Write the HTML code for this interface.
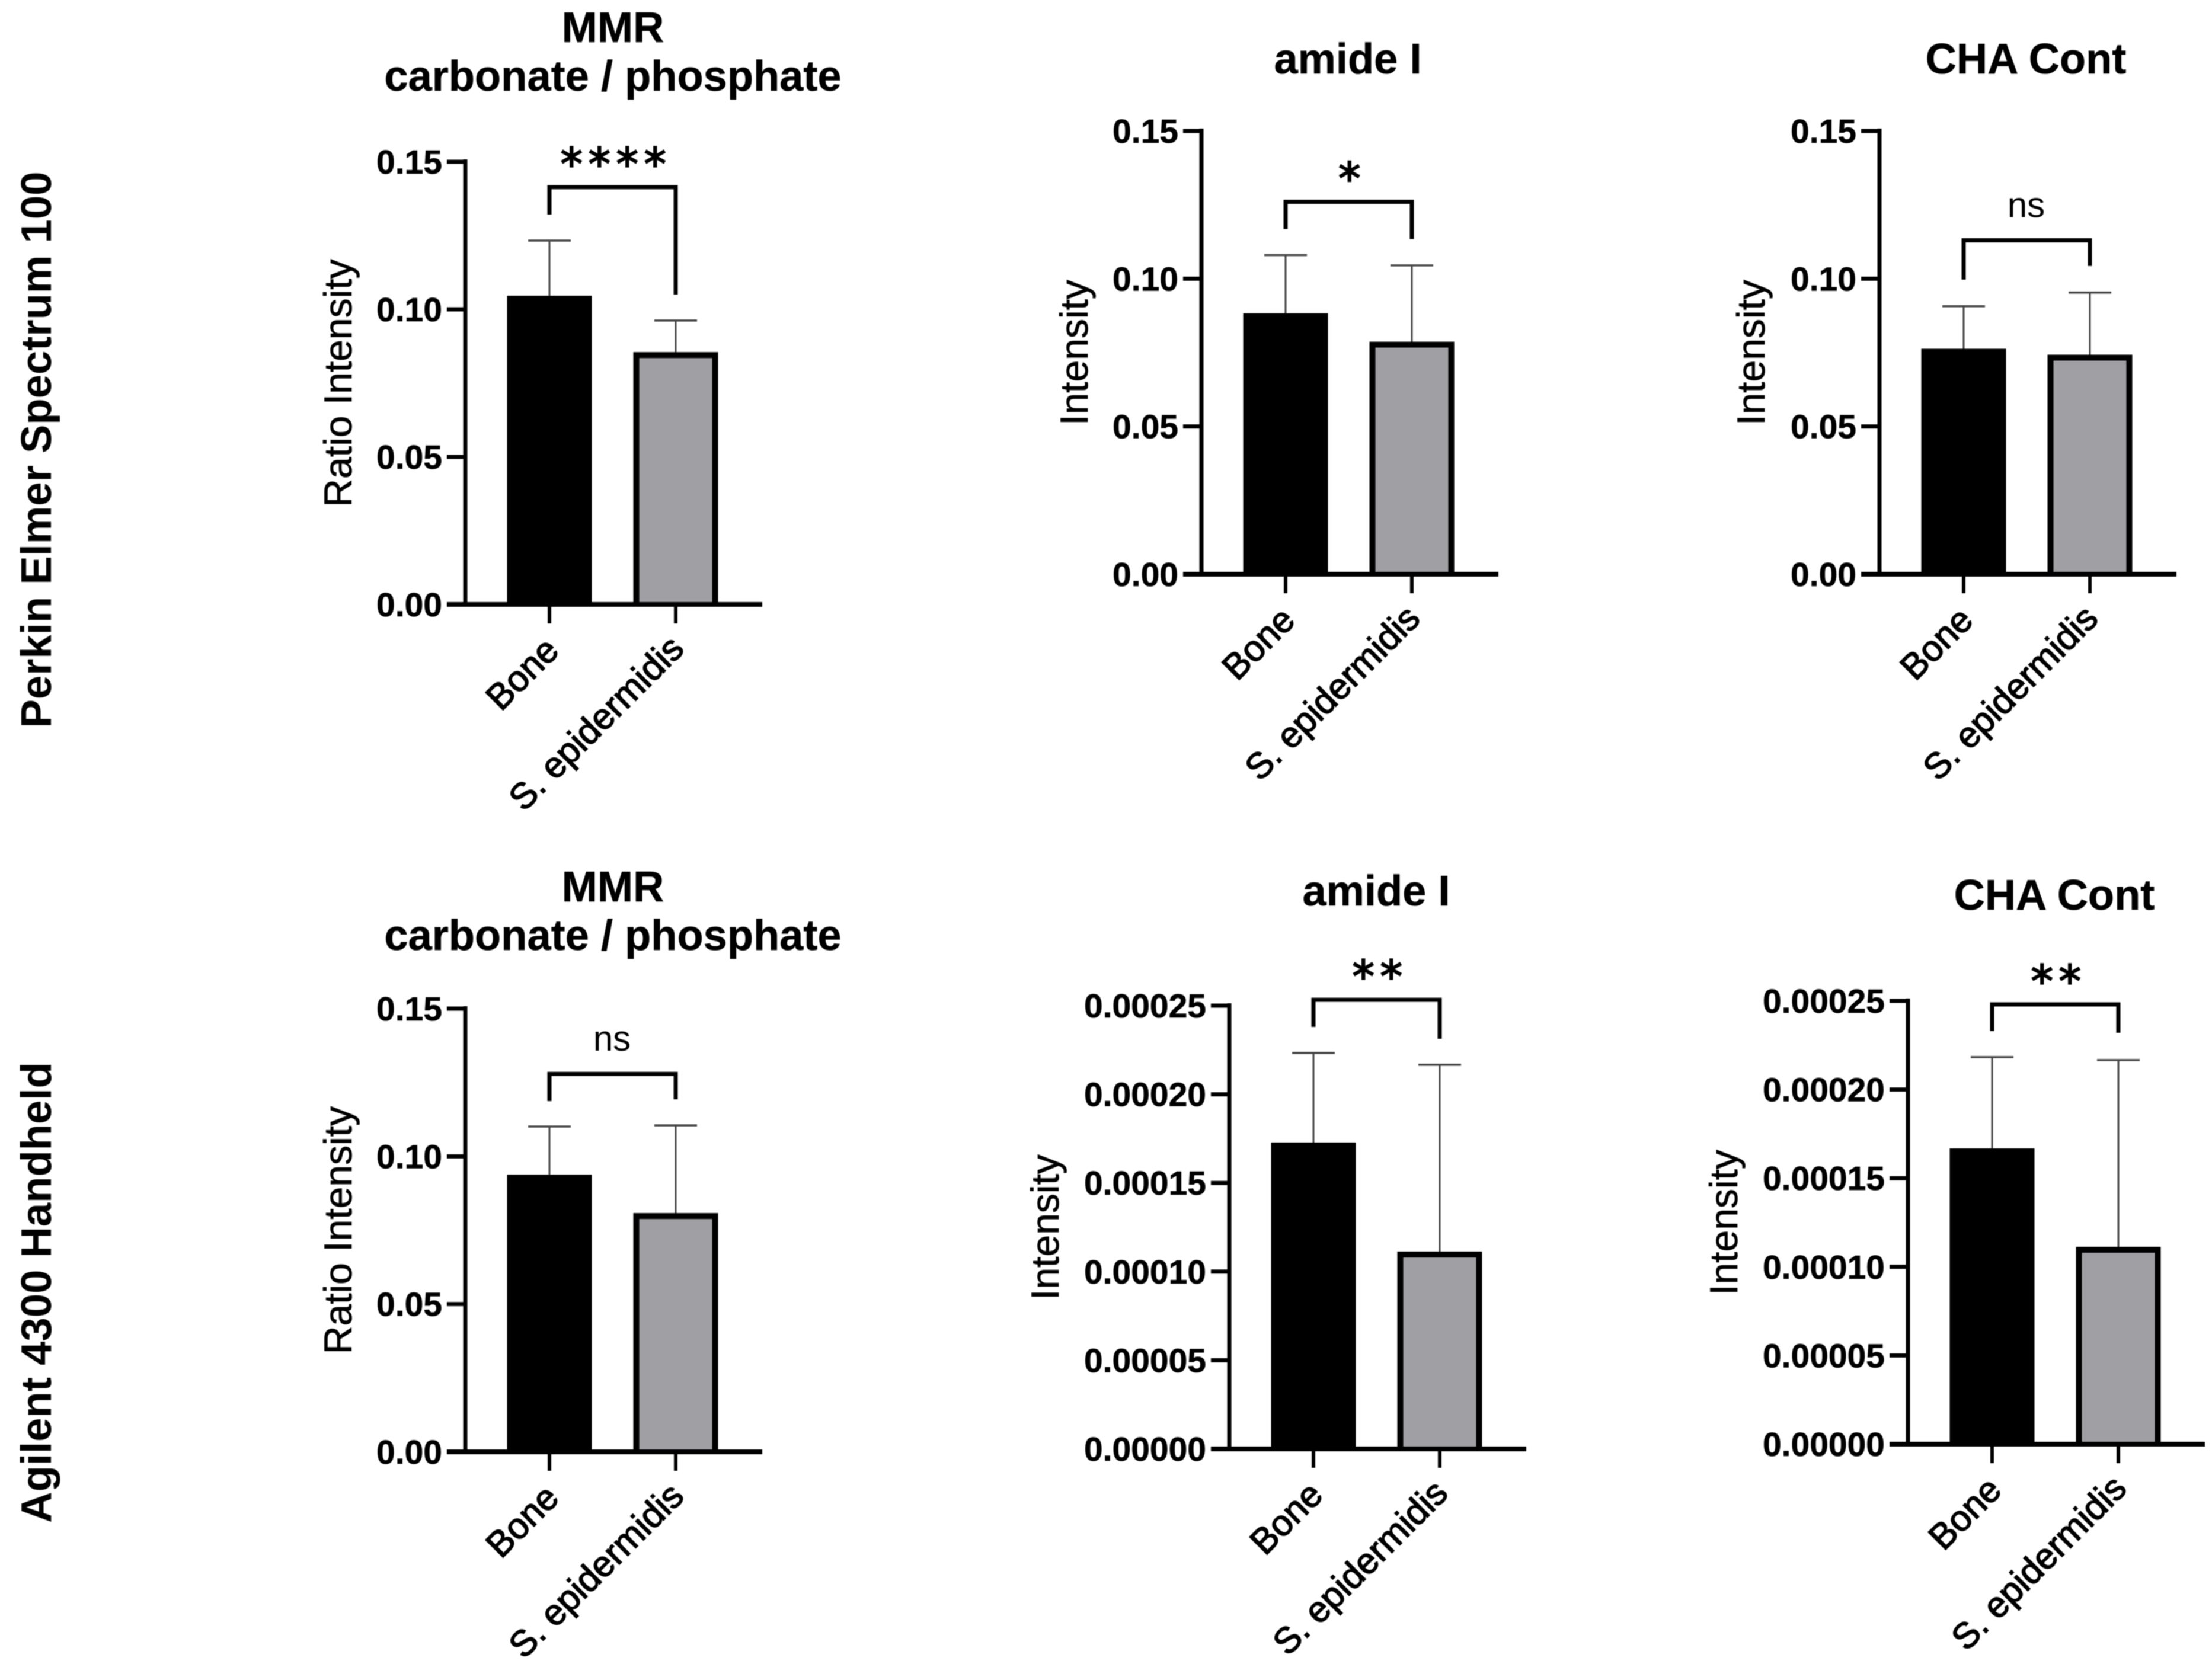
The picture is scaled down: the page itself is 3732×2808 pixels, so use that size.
<!DOCTYPE html>
<html lang="en">
<head>
<meta charset="utf-8">
<title>Bone vs S. epidermidis FTIR parameters</title>
<style>
html,body{margin:0;padding:0;background:#fff;}
body{width:3732px;height:2808px;overflow:hidden;}
svg{display:block;filter:blur(0.8px);}
text{font-family:"Liberation Sans",Arial,sans-serif;fill:#000;}
.title{font-weight:700;font-size:72.3px;text-anchor:middle;stroke:#000;stroke-width:0.5px;}
.row{font-weight:700;font-size:72.5px;text-anchor:middle;}
.tick{font-weight:700;font-size:57px;text-anchor:end;stroke:#000;stroke-width:0.6px;}
.ytitle{font-size:66px;text-anchor:middle;stroke:#000;stroke-width:0.7px;}
.cat{font-size:61px;text-anchor:end;stroke:#000;stroke-width:1.6px;}
.ns{font-size:60px;text-anchor:middle;}
.stars{font-family:"DejaVu Sans",sans-serif;font-size:75px;letter-spacing:9.5px;text-anchor:middle;stroke:#000;stroke-width:2.2px;}
</style>
</head>
<body>
<svg id="figure" xmlns="http://www.w3.org/2000/svg" width="3732" height="2808" viewBox="0 0 3732 2808">
  <rect width="3732" height="2808" fill="#fff"/>
  <text class="row" transform="translate(86 759) rotate(-90)">Perkin Elmer Spectrum 100</text>
  <text class="row" transform="translate(86 2181) rotate(-90)">Agilent 4300 Handheld</text>
</svg>
<script>
const categories = ['Bone', 'S. epidermidis'];
const titleLines = [
  ['MMR', 'carbonate / phosphate'],
  ['amide I'],
  ['CHA Cont'],
  ['MMR', 'carbonate / phosphate'],
  ['amide I'],
  ['CHA Cont']
];
const yAxisTitles = ['Ratio Intensity', 'Intensity', 'Intensity', 'Ratio Intensity', 'Intensity', 'Intensity'];
const tickLabelsShort = ['0.00', '0.05', '0.10', '0.15'];
const tickLabelsLong = ['0.00000', '0.00005', '0.00010', '0.00015', '0.00020', '0.00025'];
const panelTicks = [tickLabelsShort, tickLabelsShort, tickLabelsShort, tickLabelsShort, tickLabelsLong, tickLabelsLong];
const meanValues = [
  [0.1046, 0.0855],
  [0.0883, 0.0787],
  [0.0763, 0.0743],
  [0.0938, 0.0808],
  [0.0001728, 0.0001113],
  [0.0001668, 0.0001113]
];
const errorValues = [
  [0.0187, 0.0107],
  [0.0197, 0.0258],
  [0.0144, 0.0210],
  [0.0163, 0.0297],
  [0.0000505, 0.0001053],
  [0.0000515, 0.0001053]
];
const bracketTop = [0.1414, 0.1260, 0.1130, 0.1279, 0.0002533, 0.0002480];
const bracketLeftEnd = [0.1321, 0.1168, 0.0997, 0.1187, 0.0002380, 0.0002330];
const bracketRightEnd = [0.1050, 0.1134, 0.1043, 0.1193, 0.0002313, 0.0002320];
const significance = ['****', '*', 'ns', 'ns', '**', '**'];

/* Panel placement on the page (layout only) */
const frames = [
  {axisX: 785,  axisTop: 273,  axisBase: 1020, titleX: 1034, titleBase: [71, 153],     yTitleDx: -192},
  {axisX: 2027, axisTop: 221,  axisBase: 969,  titleX: 2274, titleBase: [124],         yTitleDx: -192},
  {axisX: 3171, axisTop: 221,  axisBase: 969,  titleX: 3418, titleBase: [124],         yTitleDx: -194},
  {axisX: 785,  axisTop: 1702, axisBase: 2450, titleX: 1034, titleBase: [1521, 1603],  yTitleDx: -192},
  {axisX: 2074, axisTop: 1697, axisBase: 2445, titleX: 2322, titleBase: [1528],        yTitleDx: -288},
  {axisX: 3219, axisTop: 1689, axisBase: 2437, titleX: 3466, titleBase: [1535],        yTitleDx: -288}
];
const BAR_OFFSETS = [142, 355];
const BAR_WIDTH = 143;
const SVGNS = 'http://www.w3.org/2000/svg';
const root = document.getElementById('figure');

function make(parent, tag, attrs, text) {
  const node = document.createElementNS(SVGNS, tag);
  for (const key in attrs) node.setAttribute(key, attrs[key]);
  if (text !== undefined) node.textContent = text;
  parent.appendChild(node);
  return node;
}

function drawPanel(i) {
  const f = frames[i];
  const ticks = panelTicks[i];
  const yMax = parseFloat(ticks[ticks.length - 1]);
  const y = v => f.axisBase - (v / yMax) * (f.axisBase - f.axisTop);
  const x = c => f.axisX + BAR_OFFSETS[c];
  let el;

  const g = make(root, 'g', {});
  
  

  titleLines[i].forEach((line, k) => {
    el = make(g, 'text', {class: 'title', x: f.titleX, y: f.titleBase[k]}, line);
    
    
  });

  el = make(g, 'text', {class: 'ytitle', transform: 'translate(' + (f.axisX + f.yTitleDx) + ' ' + ((f.axisTop + f.axisBase) / 2) + ') rotate(-90)'}, yAxisTitles[i]);
  
  

  categories.forEach((cat, c) => {
    const top = y(meanValues[i][c] + errorValues[i][c]);
    el = make(g, 'line', {x1: x(c), x2: x(c), y1: top, y2: y(meanValues[i][c]), stroke: '#444', 'stroke-width': 3});
    
    
    el = make(g, 'line', {x1: x(c) - 36, x2: x(c) + 36, y1: top, y2: top, stroke: '#444', 'stroke-width': 3.5});
    
    

    const barTop = y(meanValues[i][c]);
    el = make(g, 'rect', {x: x(c) - BAR_WIDTH / 2, y: barTop, width: BAR_WIDTH, height: f.axisBase - barTop, fill: '#000'});
    if (c === 0) {
      
      
    } else {
      
      
      el = make(g, 'rect', {x: x(c) - BAR_WIDTH / 2 + 10, y: barTop + 10, width: BAR_WIDTH - 20, height: f.axisBase - barTop - 10, fill: '#a09fa4'});
      
      
    }

    el = make(g, 'line', {x1: x(c), x2: x(c), y1: f.axisBase, y2: f.axisBase + 32, stroke: '#000', 'stroke-width': 6});
    
    

    const catDx = c === 0 ? 19 : 17;
    const catDy = c === 0 ? 81 : 78;
    el = make(g, 'text', {class: 'cat', transform: 'translate(' + (x(c) + catDx) + ' ' + (f.axisBase + catDy) + ') rotate(-45)'}, cat);
    
    
  });

  el = make(g, 'line', {x1: f.axisX, x2: f.axisX, y1: f.axisTop - 4, y2: f.axisBase, stroke: '#000', 'stroke-width': 7});
  
  

  el = make(g, 'line', {x1: f.axisX - 31, x2: f.axisX + 501, y1: f.axisBase, y2: f.axisBase, stroke: '#000', 'stroke-width': 8});
  
  

  ticks.forEach(label => {
    const ty = y(parseFloat(label));
    if (parseFloat(label) > 0) {
      el = make(g, 'line', {x1: f.axisX - 31, x2: f.axisX, y1: ty, y2: ty, stroke: '#000', 'stroke-width': 7});
      
      
    }
    el = make(g, 'text', {class: 'tick', x: f.axisX - 39, y: ty + 20}, label);
    
    
  });

  const pts = [
    [x(0), y(bracketLeftEnd[i])],
    [x(0), y(bracketTop[i])],
    [x(1), y(bracketTop[i])],
    [x(1), y(bracketRightEnd[i])]
  ];
  el = make(g, 'polyline', {points: pts.map(p => p.join(',')).join(' '), fill: 'none', stroke: '#000', 'stroke-width': 7, 'stroke-linejoin': 'miter'});
  
  

  const mid = (x(0) + x(1)) / 2;
  if (significance[i] === 'ns') {
    el = make(g, 'text', {class: 'ns', x: mid - 1, y: y(bracketTop[i]) - 39}, significance[i]);
  } else {
    el = make(g, 'text', {class: 'stars', x: mid + 6, y: y(bracketTop[i]) - 13}, significance[i]);
  }
  
  
}

frames.forEach((f, i) => drawPanel(i));
</script>
</body>
</html>
